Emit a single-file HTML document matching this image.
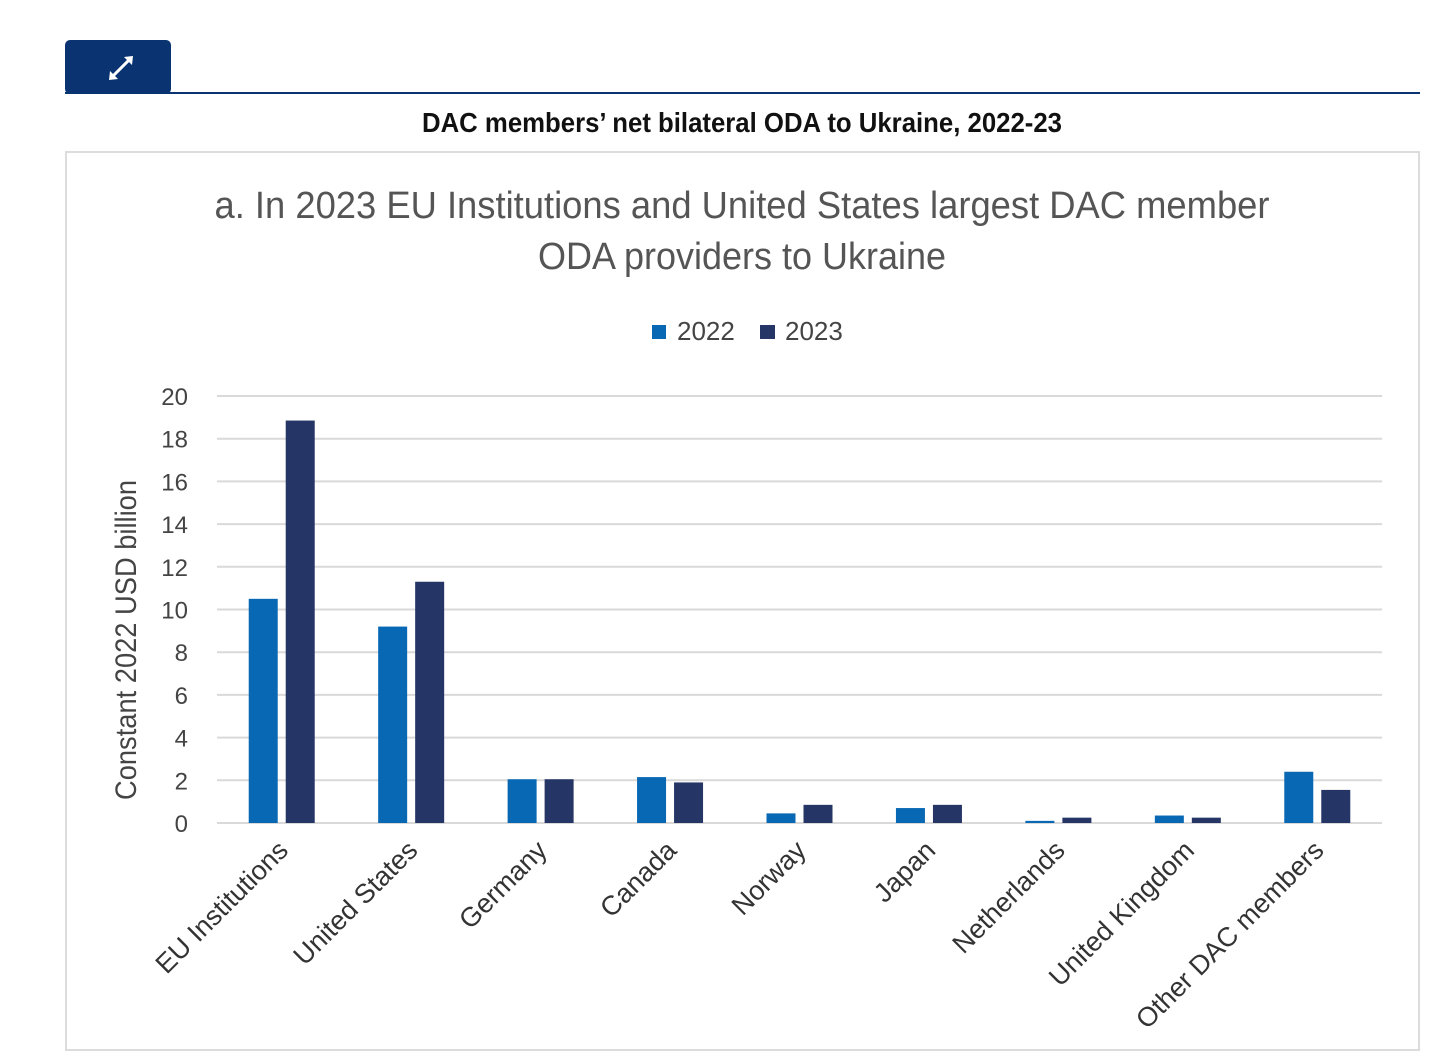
<!DOCTYPE html>
<html><head><meta charset="utf-8"><style>
body{margin:0;background:#fff;width:1456px;height:1061px;overflow:hidden;font-family:"Liberation Sans",sans-serif}
svg{position:absolute;left:0;top:0}
</style></head><body>
<svg width="1456" height="1061">
<rect x="65" y="40" width="106" height="54" rx="5" fill="#0a3371"/>
<g stroke="#fff" stroke-width="3" fill="#fff">
<line x1="112" y1="77" x2="130" y2="59"/>
<polygon points="133,56 124,57 132,65" stroke="none"/>
<polygon points="109,80 110,71 118,79" stroke="none"/>
</g>
<line x1="65" y1="93" x2="1420" y2="93" stroke="#0a3371" stroke-width="2"/>
<text x="742" y="132" text-anchor="middle" font-size="28" font-weight="bold" textLength="640" lengthAdjust="spacingAndGlyphs" fill="#111">DAC members’ net bilateral ODA to Ukraine, 2022-23</text>
<rect x="66" y="152" width="1353" height="898" fill="none" stroke="#dcdcdc" stroke-width="2"/>
<text x="742" y="218" text-anchor="middle" font-size="38" fill="#555" textLength="1055" lengthAdjust="spacingAndGlyphs">a. In 2023 EU Institutions and United States largest DAC member</text>
<text x="742" y="269" text-anchor="middle" font-size="38" fill="#555" textLength="408" lengthAdjust="spacingAndGlyphs">ODA providers to Ukraine</text>
<g>
<rect x="652" y="325" width="14" height="14" fill="#0868b4"/>
<text x="677" y="340" font-size="26" fill="#444">2022</text>
<rect x="760" y="325" width="15" height="14" fill="#253565"/>
<text x="785" y="340" font-size="26" fill="#444">2023</text>
</g>
<text transform="translate(136,640) rotate(-90)" text-anchor="middle" font-size="30" fill="#444" textLength="320" lengthAdjust="spacingAndGlyphs">Constant 2022 USD billion</text>
<g id="plot"></g>
</svg>
<script>
const categories=["EU Institutions","United States","Germany","Canada","Norway","Japan","Netherlands","United Kingdom","Other DAC members"];
const values2022=[10.5,9.2,2.05,2.15,0.45,0.7,0.1,0.35,2.4];
const values2023=[18.85,11.3,2.05,1.9,0.85,0.85,0.25,0.25,1.55];
const yTicks=[0,2,4,6,8,10,12,14,16,18,20];
const NS="http://www.w3.org/2000/svg";
const g=document.getElementById('plot');
const x0=217,x1=1382,y0=823,y1=396,yMax=20;
const y=v=>y0-(v/yMax)*(y0-y1);
const band=(x1-x0)/categories.length;
const cx=i=>x0+band*(i+0.5);
function mk(t,a){const e=document.createElementNS(NS,t);for(const k in a)e.setAttribute(k,a[k]);g.appendChild(e);return e;}
yTicks.forEach(t=>{
 const l=mk('line',{x1:x0,x2:x1,y1:y(t),y2:y(t),stroke:'#d9d9d9','stroke-width':2});
 
 
 const tx=mk('text',{x:188,y:y(t)+9,'text-anchor':'end','font-size':24,fill:'#444'});
 tx.textContent=t;
 
 
});
const bw=29,gap=8;
categories.forEach((c,i)=>{
 const b1=mk('rect',{x:cx(i)-gap/2-bw,y:y(values2022[i]),width:bw,height:y0-y(values2022[i]),fill:'#0868b4'});
 
 
 const b2=mk('rect',{x:cx(i)+gap/2,y:y(values2023[i]),width:bw,height:y0-y(values2023[i]),fill:'#253565'});
 
 
 const t=mk('text',{transform:`translate(${cx(i)+8},852) rotate(-45)`,'text-anchor':'end','font-size':27,fill:'#333'});
 t.textContent=c;
 
 
});
</script>
</body></html>
